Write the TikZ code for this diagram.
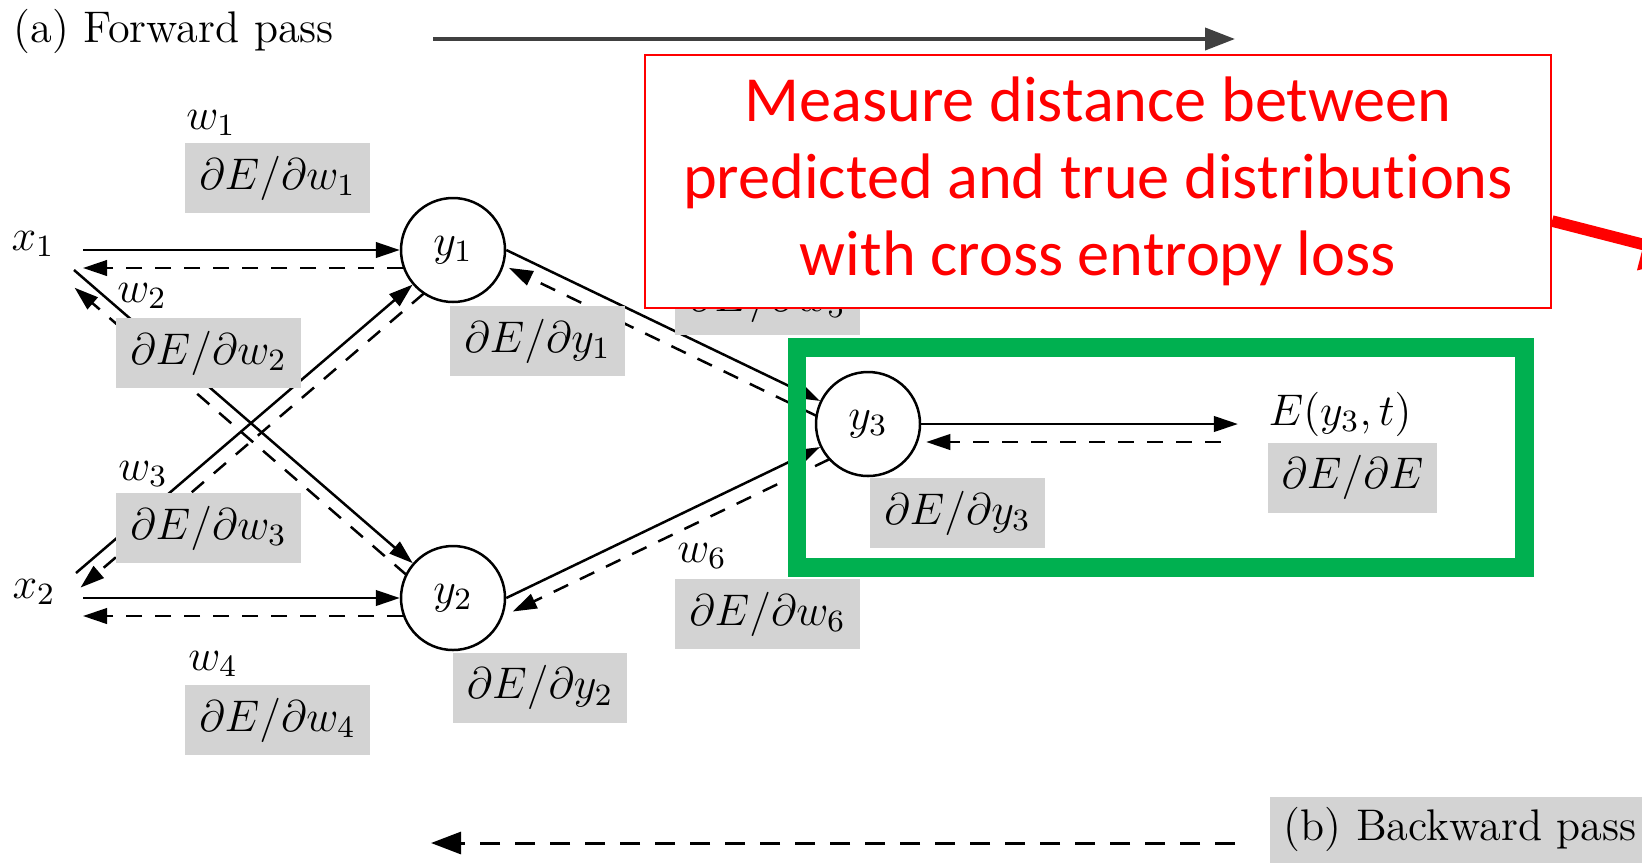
\RequirePackage{fix-cm}
\documentclass[tikz,border=0pt]{standalone}
\usepackage{fontspec}
\newfontfamily\notefont[Ligatures=NoCommon]{Carlito}
\usetikzlibrary{arrows.meta,calc}
\definecolor{boxgreen}{RGB}{0,176,80}
\definecolor{gradgray}{RGB}{211,211,211}

\begin{document}
\begin{tikzpicture}[x=0.1mm, y=-0.1mm,
  every node/.style={font=\fontsize{12.6}{15}\selectfont},
  unit/.style={circle, draw, line width=0.25mm, fill=white, minimum size=10.4mm, inner sep=0pt},
  grad/.style={fill=gradgray, inner xsep=1.4mm, inner ysep=0pt, minimum height=7mm},
  fwd/.style={line width=0.25mm, -{Triangle[length=2.4mm,width=1.55mm]}},
  bwd/.style={line width=0.25mm, dash pattern=on 1.6mm off 1.3mm, -{Triangle[length=2.4mm,width=1.55mm]}},
  passfwd/.style={line width=0.4mm, black!75, -{Triangle[length=3mm,width=2.2mm]}},
  passbwd/.style={line width=0.3mm, dash pattern=on 2mm off 1.5mm, -{Triangle[length=3mm,width=2.2mm]}},
]
\useasboundingbox (0,0) rectangle (1642,862);
\clip (0,0) rectangle (1642,862);

% neurons
\node[unit] (y1) at (453,250) {$y_1$};
\node[unit] (y2) at (453,598) {$y_2$};
\node[unit] (y3) at (868,424) {$y_3$};

% inputs and loss
\node (x1) at (33,244) {$x_1$};
\node (x2) at (34,592) {$x_2$};
\node[inner sep=0pt] (E) at (1340,414) {$E(y_3,t)$};

% ports where the connectors leave or arrive
\coordinate (x1a) at ($(x1)+(50,6)$);
\coordinate (x1b) at ($(x1)+(41,26)$);
\coordinate (x2a) at ($(x2)+(49,6)$);
\coordinate (x2b) at ($(x2)+(42,-19)$);
\coordinate (Ein) at ($(y3.east -| E.west)+(-30,0)$);

% forward pass
\draw[fwd] (x1a) -- (y1);
\draw[fwd] (x1b) -- (y2);
\draw[fwd] (x2b) -- (y1);
\draw[fwd] (x2a) -- (y2);
\draw[fwd] (y1.east) -- (y3);
\draw[fwd] (y2.east) -- (y3);
\draw[fwd] (y3.east) -- (Ein);

% backward pass (parallel, on the clockwise side)
\draw[bwd, shorten <=5mm] ($(y1)!1.8mm!90:(x1a)$) -- ($(x1a)!1.8mm!-90:(y1)$);
\draw[bwd, shorten <=5mm, shorten >=1.2mm] ($(y2)!1.3mm!90:(x1b)$) -- ($(x1b)!1.3mm!-90:(y2)$);
\draw[bwd, shorten <=5mm, shorten >=-0.6mm] ($(y1)!1.4mm!90:(x2b)$) -- ($(x2b)!1.4mm!-90:(y1)$);
\draw[bwd, shorten <=5mm] ($(y2)!1.8mm!90:(x2a)$) -- ($(x2a)!1.8mm!-90:(y2)$);
\draw[bwd, shorten <=5mm, shorten >=1mm] ($(y3)!1.5mm!90:(y1.east)$) -- ($(y1.east)!1.5mm!-90:(y3)$);
\draw[bwd, shorten <=5mm] ($(y3)!1.5mm!90:(y2.east)$) -- ($(y2.east)!1.5mm!-90:(y3)$);
\draw[bwd, shorten <=1.7mm, shorten >=0.5mm] ($(Ein)!1.8mm!90:(y3.east)$) -- ($(y3.east)!1.8mm!-90:(Ein)$);

% weights
\node (w1) at (211,123) {$w_1$};
\node (w2) at (142,296) {$w_2$};
\node (w3) at (143,474) {$w_3$};
\node (w4) at (213,664) {$w_4$};
\node (w6) at (702,556) {$w_6$};

% gradients
\node[grad] (gw1) at (277.5,178) {$\partial E/\partial w_1$};
\node[grad] (gw2) at (208.5,353) {$\partial E/\partial w_2$};
\node[grad] (gw3) at (208.5,528) {$\partial E/\partial w_3$};
\node[grad] (gw4) at (277.5,720) {$\partial E/\partial w_4$};
\node[grad] (gw5) at (767.5,300) {$\partial E/\partial w_5$};
\node[grad] (gw6) at (767.5,614) {$\partial E/\partial w_6$};
\node[grad] (gy1) at (537.5,341) {$\partial E/\partial y_1$};
\node[grad] (gy2) at (540,687.5) {$\partial E/\partial y_2$};
\node[grad] (gy3) at (957.5,513) {$\partial E/\partial y_3$};
\node[grad] (gE) at (1352.5,477.5) {$\partial E/\partial E$};

% pass directions
\node[anchor=base west, inner sep=0pt] (fp) at (13,42) {(a) Forward pass};
\coordinate (fs) at (433,39);
\coordinate (fe) at (1235,39);
\draw[passfwd] (fs) -- (fe);

\fill[gradgray] (1270,797) rectangle (1700,900);
\node[anchor=base west, inner sep=0pt] (bp) at (1283,840) {(b) Backward pass};
\coordinate (bs) at (1235,843);
\coordinate (be) at (431,843);
\draw[passbwd] (bs) -- (be);

% annotation
\node[draw=red, line width=0.2mm, fill=white, minimum width=90.6mm, minimum height=25.3mm,
      align=center, text=red, font=\notefont\fontsize{18.3}{21.9}\selectfont] (note) at (1098,181)
  {Measure distance between\\predicted and true distributions\\with cross entropy loss};
\draw[boxgreen, line width=1.85mm] (797,347.5) rectangle (1524.5,567.5);
\coordinate (ptr) at (1692,257);
\draw[red, line width=1.15mm, -{Triangle[length=5mm,width=5mm]}] ($(note.east)+(0,40)$) -- (ptr);
\end{tikzpicture}
\end{document}
